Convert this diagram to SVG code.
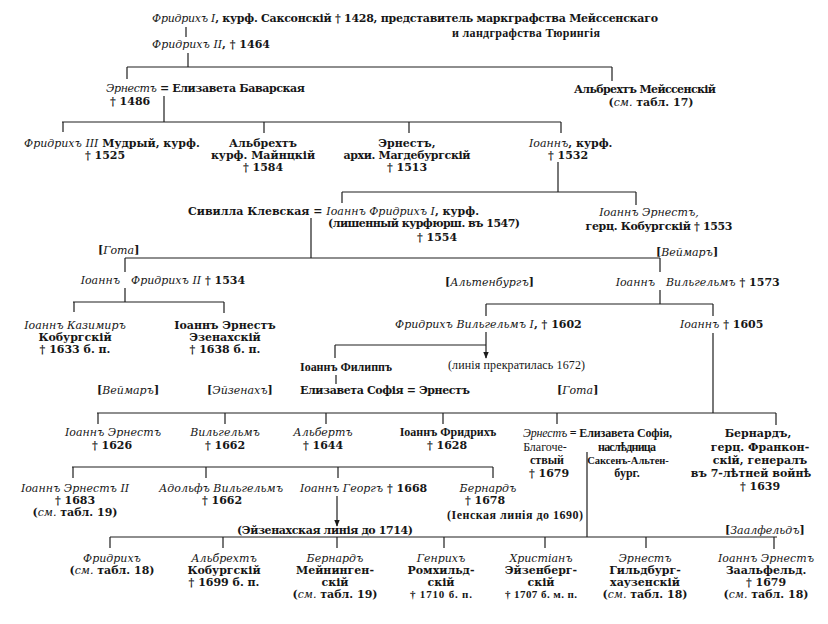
<svg xmlns="http://www.w3.org/2000/svg" width="828" height="624" viewBox="0 0 828 624">
<defs>
<marker id="arr" viewBox="0 0 10 10" refX="9" refY="5" markerWidth="7" markerHeight="7" orient="auto" markerUnits="userSpaceOnUse">
<path d="M0,1 L10,5 L0,9 z" fill="#1a1a1a"/>
</marker>
</defs>
<style>
text{font-family:"DejaVu Serif","Liberation Serif",serif;font-size:11px;font-weight:bold;fill:#161616}
.nar{font-family:"Liberation Serif","DejaVu Serif",serif;font-size:12px}
.s{font-size:11px}
.xs{font-size:10.5px}
.i{font-style:italic;font-weight:normal}
.n{font-weight:normal}
.m{text-anchor:middle}
.e{text-anchor:end}
.c path{stroke:#1e1e1e;stroke-width:1.2;fill:none}
</style>
<rect width="828" height="624" fill="#fff"/>
<g class="c" id="connectors">
<path d="M186 27V37M188 53V67M127 67H612M127 67V79M612 67V81M164 96V122"/>
<path d="M62 122H561M63 122V132M264 122V133M409 122V133M561 122V133"/>
<path d="M558 162V192M342 192H636M342 192V203M636 192V205M311 218V258"/>
<path d="M125 258H660M125 258V272M125 288V302M660 258V272M660 290V304"/>
<path d="M73 302H224M74 302V312M224 302V313M486 304H713M486 304V316M713 304V316"/>
<path d="M486 332V358" marker-end="url(#arr)"/>
<path d="M335 345H486M335 345V358M336 375V384M713 333V413"/>
<path d="M97 413H776M98 413V424M225 413V424M326 413V424M443 413V424M557 413V424M776 413V425"/>
<path d="M587 452V537M72 467H493M73 467V478M206 467V478M338 467V478M493 467V478"/>
<path d="M337 496V526" marker-end="url(#arr)"/>
<path d="M110 537H777M110 537V548M223 537V548M337 537V548M444 537V548M545 537V548M646 537V548M774 537V549"/>
</g>
<g id="n1"><text x="152" y="22" textLength="506"><tspan class="i">Фридрихъ I</tspan>, курф. Саксонскій † 1428, представитель маркграфства Мейссенскаго</text><text class="m nar" x="526" y="37" textLength="148">и ландграфства Тюрингія</text></g>
<g id="n2"><text x="152" y="48"><tspan class="i">Фридрихъ II</tspan>, † 1464</text></g>
<g id="n3"><text x="106" y="92" textLength="199"><tspan class="i">Эрнестъ</tspan> = Елизавета Баварская</text><text x="110" y="105">† 1486</text></g>
<g id="n4"><text class="m" x="645" y="93" textLength="142">Альбрехтъ Мейссенскій</text><text class="m" x="651" y="106">(<tspan class="i">см.</tspan> табл. 17)</text></g>
<g id="n5"><text x="24" y="147"><tspan class="i">Фридрихъ III</tspan> Мудрый, курф.</text><text class="m" x="105" y="159">† 1525</text></g>
<g id="n6"><text class="m" x="263" y="147">Альбрехтъ</text><text class="m" x="263" y="159">курф. Майнцкій</text><text class="m" x="263" y="171">† 1584</text></g>
<g id="n7"><text class="m" x="407" y="147">Эрнестъ,</text><text class="m" x="407" y="159" textLength="127">архи. Магдебургскій</text><text class="m" x="407" y="171">† 1513</text></g>
<g id="n8"><text x="529" y="147"><tspan class="i">Іоаннъ</tspan>, курф.</text><text class="m" x="568" y="159">† 1532</text></g>
<g id="n9"><text x="188" y="215">Сивилла Клевская = <tspan class="i">Іоаннъ Фридрихъ I</tspan>, курф.</text><text class="m" x="424" y="227" textLength="192">(лишенный курфюрш. въ 1547)</text><text class="m" x="437" y="241">† 1554</text></g>
<g id="n10"><text class="m i" x="649" y="216">Іоаннъ Эрнестъ,</text><text class="m" x="659" y="230" textLength="147">герц. Кобургскій † 1553</text></g>
<g id="l-gotha1"><text x="98" y="254">[<tspan class="i">Гота</tspan>]</text></g>
<g id="l-weimar1"><text x="656" y="256">[<tspan class="i">Веймаръ</tspan>]</text></g>
<g id="n11"><text class="e i" x="120" y="284">Іоаннъ</text><text x="131" y="284"><tspan class="i">Фридрихъ II</tspan> † 1534</text></g>
<g id="l-altenburg"><text x="445" y="286">[<tspan class="i">Альтенбургъ</tspan>]</text></g>
<g id="n12"><text class="e i" x="655" y="286">Іоаннъ</text><text x="666" y="286"><tspan class="i">Вильгельмъ</tspan> † 1573</text></g>
<g id="n13"><text class="m i" x="75" y="329">Іоаннъ Казимиръ</text><text class="m" x="75" y="341">Кобургскій</text><text class="m" x="75" y="353">† 1633 б. п.</text></g>
<g id="n14"><text class="m" x="225" y="329">Іоаннъ Эрнестъ</text><text class="m" x="225" y="341">Эзенахскій</text><text class="m" x="225" y="353">† 1638 б. п.</text></g>
<g id="n15"><text x="395" y="328"><tspan class="i">Фридрихъ Вильгельмъ I</tspan>, † 1602</text></g>
<g id="n16"><text x="680" y="328"><tspan class="i">Іоаннъ</tspan> † 1605</text></g>
<g id="n17"><text class="nar" x="300" y="371" textLength="92">Іоаннъ Филиппъ</text></g>
<g id="n18"><text class="nar n" x="448" y="369" textLength="137">(линія прекратилась 1672)</text></g>
<g id="n19"><text x="300" y="394" textLength="170">Елизавета Софія = Эрнестъ</text></g>
<g id="l-row4"><text x="97" y="394">[<tspan class="i">Веймаръ</tspan>]</text><text x="207" y="394">[<tspan class="i">Эйзенахъ</tspan>]</text><text x="557" y="394">[<tspan class="i">Гота</tspan>]</text></g>
<g id="n20"><text class="m i" x="113" y="436">Іоаннъ Эрнестъ</text><text class="m" x="112" y="449">† 1626</text></g>
<g id="n21"><text class="m i" x="225" y="436">Вильгельмъ</text><text class="m" x="225" y="449">† 1662</text></g>
<g id="n22"><text class="m i" x="323" y="436">Альбертъ</text><text class="m" x="323" y="449">† 1644</text></g>
<g id="n23"><text class="m nar" x="448" y="436">Іоаннъ Фридрихъ</text><text class="m" x="447" y="449">† 1628</text></g>
<g id="n24"><text class="nar" x="523" y="437" textLength="149"><tspan class="i">Эрнестъ</tspan> = Елизавета Софія,</text><text class="m nar n" x="545" y="451">Благоче-</text><text class="m nar" x="547" y="464">ствый</text><text class="m" x="549" y="477">† 1679</text><text class="m nar" x="627" y="451" textLength="58">наслѣдница</text><text class="m nar xs" x="628" y="464">Саксенъ-Альтен-</text><text class="m nar" x="627" y="477">бург.</text></g>
<g id="n25"><text class="m" x="758" y="437">Бернардъ,</text><text class="m" x="760" y="451">герц. Франкон-</text><text class="m" x="760" y="464">скій, генералъ</text><text class="m" x="751" y="477">въ 7-лѣтней войнѣ</text><text class="m" x="760" y="490">† 1639</text></g>
<g id="n26"><text class="m i" x="75" y="492">Іоаннъ Эрнестъ II</text><text class="m" x="75" y="504">† 1683</text><text class="m" x="75" y="516">(<tspan class="i">см.</tspan> табл. 19)</text></g>
<g id="n27"><text class="m i" x="221" y="492">Адольфъ Вильгельмъ</text><text class="m" x="222" y="504">† 1662</text></g>
<g id="n28"><text x="300" y="492"><tspan class="i">Іоаннъ Георгъ</tspan> † 1668</text></g>
<g id="n29"><text x="237" y="534" textLength="176">(Эйзенахская линія до 1714)</text></g>
<g id="n30"><text class="m i" x="488" y="492">Бернардъ</text><text class="m" x="485" y="504">† 1678</text><text class="nar" x="447" y="519" textLength="136">(Іенская линія до 1690)</text></g>
<g id="l-saalfeld"><text x="725" y="534">[<tspan class="i">Заалфельдъ</tspan>]</text></g>
<g id="n31"><text class="m i" x="112" y="562">Фридрихъ</text><text class="m" x="112" y="574">(<tspan class="i">см.</tspan> табл. 18)</text></g>
<g id="n32"><text class="m i" x="224" y="562">Альбрехтъ</text><text class="m" x="224" y="574">Кобургскій</text><text class="m" x="224" y="586">† 1699 б. п.</text></g>
<g id="n33"><text class="m i" x="335" y="562">Бернардъ</text><text class="m" x="335" y="574">Мейнинген-</text><text class="m" x="335" y="586">скій</text><text class="m" x="335" y="598">(<tspan class="i">см.</tspan> табл. 19)</text></g>
<g id="n34"><text class="m i" x="441" y="562">Генрихъ</text><text class="m" x="441" y="574">Ромхильд-</text><text class="m" x="441" y="586">скій</text><text class="m nar s" x="441" y="598" textLength="62">† 1710 б. п.</text></g>
<g id="n35"><text class="m i" x="541" y="562">Христіанъ</text><text class="m" x="541" y="574">Эйзенберг-</text><text class="m" x="541" y="586">скій</text><text class="m nar s" x="541" y="598" textLength="72">† 1707 б. м. п.</text></g>
<g id="n36"><text class="m i" x="645" y="562">Эрнестъ</text><text class="m" x="645" y="574">Гильдбург-</text><text class="m" x="645" y="586">хаузенскій</text><text class="m" x="645" y="598">(<tspan class="i">см.</tspan> табл. 18)</text></g>
<g id="n37"><text class="m i" x="766" y="562">Іоаннъ Эрнестъ</text><text class="m" x="766" y="574">Заальфельд.</text><text class="m" x="766" y="586">† 1679</text><text class="m" x="766" y="598">(<tspan class="i">см.</tspan> табл. 18)</text></g>
</svg>
